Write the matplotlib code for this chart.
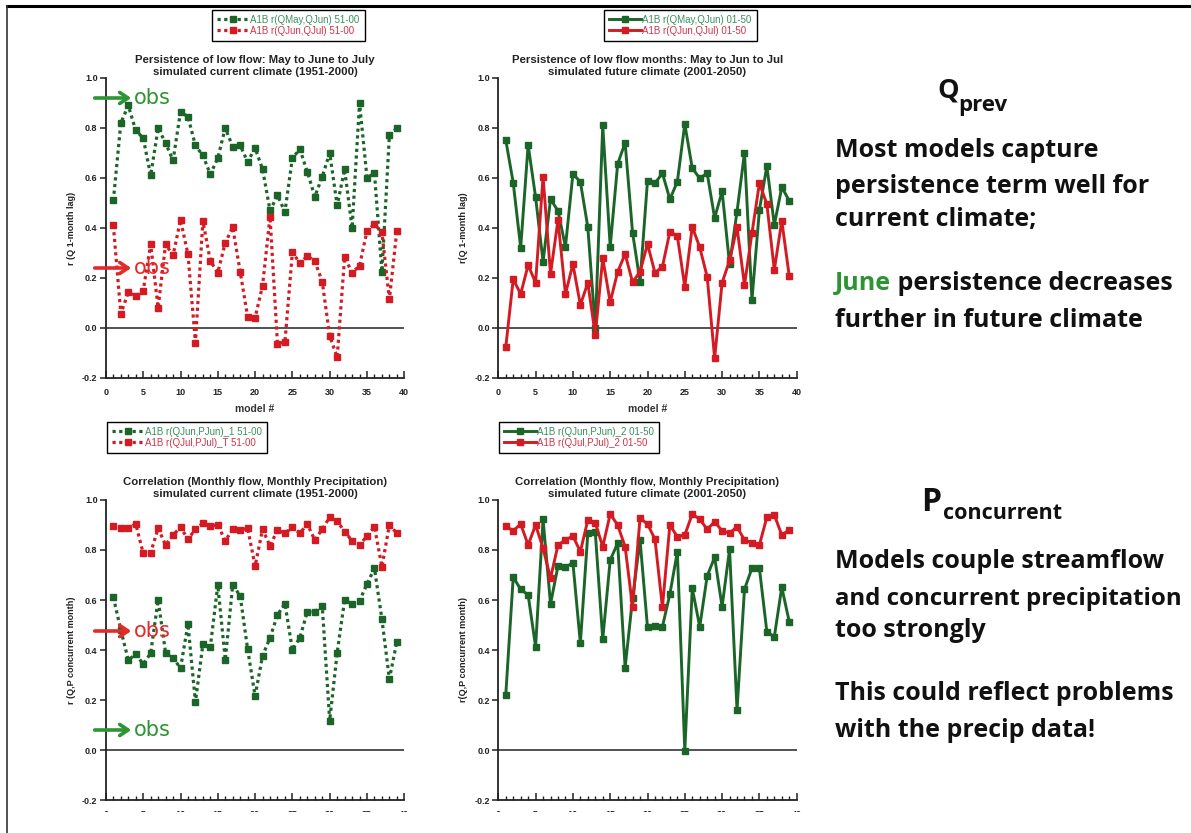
import matplotlib
matplotlib.use('Agg')
import matplotlib.pyplot as plt
from matplotlib.lines import Line2D
from matplotlib.patches import Rectangle

# ---------------- data ----------------
models = list(range(1, 40))

# top-left: persistence, current climate (1951-2000)
tl_green = [0.51, 0.82, 0.89, 0.79, 0.76, 0.61, 0.80, 0.74, 0.67, 0.865, 0.845, 0.73, 0.69,
            0.615, 0.68, 0.80, 0.725, 0.73, 0.665, 0.72, 0.635, 0.47, 0.53, 0.465, 0.68, 0.715,
            0.625, 0.525, 0.605, 0.70, 0.49, 0.635, 0.40, 0.90, 0.60, 0.62, 0.225, 0.77, 0.80]
tl_red = [0.41, 0.056, 0.143, 0.128, 0.149, 0.335, 0.081, 0.335, 0.29, 0.432, 0.295, -0.059, 0.428,
          0.268, 0.221, 0.341, 0.403, 0.225, 0.045, 0.041, 0.169, 0.445, -0.064, -0.055, 0.303, 0.259,
          0.288, 0.268, 0.185, -0.032, -0.117, 0.283, 0.221, 0.249, 0.388, 0.415, 0.383, 0.115, 0.389]

# top-right: persistence, future climate (2001-2050)
tr_green = [0.752, 0.581, 0.321, 0.732, 0.523, 0.265, 0.515, 0.469, 0.325, 0.616, 0.585, 0.403, 0.0,
            0.81, 0.325, 0.656, 0.741, 0.381, 0.185, 0.589, 0.579, 0.619, 0.515, 0.585, 0.816, 0.639,
            0.599, 0.619, 0.44, 0.547, 0.255, 0.465, 0.701, 0.112, 0.472, 0.648, 0.412, 0.563, 0.509]
tr_red = [-0.077, 0.195, 0.136, 0.252, 0.181, 0.605, 0.216, 0.432, 0.136, 0.256, 0.092, 0.181, -0.028,
          0.279, 0.103, 0.225, 0.296, 0.183, 0.225, 0.336, 0.221, 0.245, 0.385, 0.368, 0.165, 0.405,
          0.323, 0.205, -0.121, 0.181, 0.27, 0.403, 0.172, 0.379, 0.579, 0.496, 0.232, 0.429, 0.208]

# bottom-left: flow/precip correlation, current climate
bl_green = [0.611, 0.48, 0.36, 0.383, 0.344, 0.387, 0.60, 0.389, 0.369, 0.327, 0.503, 0.191, 0.423,
            0.413, 0.66, 0.36, 0.66, 0.617, 0.403, 0.216, 0.377, 0.449, 0.54, 0.586, 0.40, 0.449,
            0.553, 0.553, 0.576, 0.117, 0.389, 0.60, 0.584, 0.597, 0.664, 0.727, 0.523, 0.284, 0.433]
bl_red = [0.896, 0.887, 0.887, 0.904, 0.787, 0.789, 0.887, 0.82, 0.86, 0.891, 0.843, 0.883, 0.907,
          0.896, 0.90, 0.837, 0.883, 0.88, 0.887, 0.736, 0.883, 0.816, 0.88, 0.867, 0.891, 0.867,
          0.904, 0.84, 0.883, 0.931, 0.916, 0.873, 0.837, 0.82, 0.856, 0.893, 0.733, 0.90, 0.867]

# bottom-right: flow/precip correlation, future climate
br_green = [0.22, 0.691, 0.643, 0.62, 0.413, 0.923, 0.584, 0.736, 0.731, 0.749, 0.427, 0.867, 0.871,
            0.443, 0.76, 0.827, 0.329, 0.607, 0.84, 0.491, 0.496, 0.493, 0.624, 0.793, -0.003, 0.647,
            0.493, 0.696, 0.771, 0.573, 0.803, 0.16, 0.643, 0.727, 0.727, 0.473, 0.453, 0.651, 0.513]
br_red = [0.896, 0.877, 0.904, 0.82, 0.90, 0.807, 0.687, 0.82, 0.84, 0.856, 0.793, 0.92, 0.909,
          0.813, 0.944, 0.90, 0.813, 0.571, 0.927, 0.904, 0.843, 0.571, 0.90, 0.853, 0.86, 0.944,
          0.923, 0.883, 0.913, 0.877, 0.867, 0.893, 0.84, 0.829, 0.82, 0.931, 0.94, 0.86, 0.88]

legend_tl = ["A1B r(QMay,QJun) 51-00", "A1B r(QJun,QJul) 51-00"]
legend_tr = ["A1B r(QMay,QJun) 01-50", "A1B r(QJun,QJul) 01-50"]
legend_bl = ["A1B r(QJun,PJun)_1 51-00", "A1B r(QJul,PJul)_T 51-00"]
legend_br = ["A1B r(QJun,PJun)_2 01-50", "A1B r(QJul,PJul)_2 01-50"]

title_tl = "Persistence of low flow: May to June to July\nsimulated current climate (1951-2000)"
title_tr = "Persistence of low flow months: May to Jun to Jul\nsimulated future climate (2001-2050)"
title_bl = "Correlation (Monthly flow, Monthly Precipitation)\nsimulated current climate (1951-2000)"
title_br = "Correlation (Monthly flow, Monthly Precipitation)\nsimulated future climate (2001-2050)"

# observed reference values (arrows)
obs_tl = [(0.92, 'g'), (0.24, 'r')]
obs_bl = [(0.476, 'r'), (0.08, 'g')]

# ---------------- style ----------------
W, H = 1191, 833
GREEN = '#1b6529'
RED = '#d41a22'
GREEN_TXT = '#3a8f5c'
RED_TXT = '#d2334a'
OBS_G = '#2e9434'
OBS_R = '#e42a2a'
SANS = ['Liberation Sans', 'DejaVu Sans']

fig = plt.figure(figsize=(W / 100, H / 100), dpi=100)
fig.patch.set_facecolor('white')


def fx(px):
    return px / W


def fy(py):
    return 1 - py / H


def make_ax(x0, y0, x1, y1):
    return fig.add_axes([fx(x0), fy(y1), (x1 - x0) / W, (y1 - y0) / H])


def style_ax(ax, title, ylabel, xlabel=None):
    ax.set_xlim(0, 40)
    ax.set_ylim(-0.2, 1.0)
    for s in ['top', 'right']:
        ax.spines[s].set_visible(False)
    for s in ['left', 'bottom']:
        ax.spines[s].set_linewidth(1.3)
        ax.spines[s].set_color('#222222')
    ax.set_xticks(range(0, 41, 5))
    ax.set_xticks(range(0, 41, 1), minor=True)
    ax.set_yticks([-0.2, 0.0, 0.2, 0.4, 0.6, 0.8, 1.0])
    ax.set_yticklabels(['-0.2', '0.0', '0.2', '0.4', '0.6', '0.8', '1.0'])
    ax.tick_params(axis='x', which='major', direction='in', length=5, width=1.1,
                   labelsize=6.5, pad=7, colors='#222222')
    ax.tick_params(axis='x', which='minor', direction='in', length=3, width=1.0, colors='#222222')
    ax.tick_params(axis='y', which='major', direction='out', length=4, width=1.1,
                   labelsize=6.5, pad=2, colors='#222222')
    for lab in ax.get_xticklabels() + ax.get_yticklabels():
        lab.set_fontweight('bold')
        lab.set_family(SANS)
    ax.axhline(0, color='#333333', lw=1.2, zorder=1)
    ax.set_title(title, fontsize=8.2, fontweight='bold', family=SANS, color='#222222',
                 pad=2, linespacing=1.25)
    ax.set_ylabel(ylabel, fontsize=6.5, fontweight='bold', family=SANS, color='#222222')
    ax.yaxis.set_label_coords(-0.1, 0.5)
    if xlabel:
        ax.set_xlabel(xlabel, fontsize=7.5, fontweight='bold', family=SANS, color='#333333',
                      labelpad=5)


def add_legend(ax, lines, labels, x, y):
    leg = ax.legend(lines, labels, loc='upper left', bbox_to_anchor=(fx(x), fy(y)),
                    bbox_transform=fig.transFigure, frameon=True,
                    fancybox=False, edgecolor='black', framealpha=1, handlelength=3.3,
                    handletextpad=0.15, labelspacing=0.08, borderpad=0.5, borderaxespad=0,
                    prop={'family': SANS, 'size': 7})
    leg.get_frame().set_linewidth(1.0)
    for t, c in zip(leg.get_texts(), [GREEN_TXT, RED_TXT]):
        t.set_color(c)


def add_obs(ax, yv, col):
    c = OBS_G if col == 'g' else OBS_R
    ax.annotate('', xy=(3.4, yv), xytext=(-1.5, yv),
                arrowprops=dict(arrowstyle='->,head_length=0.6,head_width=0.4',
                                lw=2.6, color=c, shrinkA=0, shrinkB=0),
                annotation_clip=False, zorder=5)
    ax.text(3.8, yv, 'obs', fontsize=15, color=c, va='center', ha='left',
            family='DejaVu Sans', zorder=5)


dotted = dict(ls=(0, (1, 1.1)), lw=2.3, marker='s', ms=4.5)
solid = dict(ls='-', lw=2.1, marker='s', ms=4.2)

# ---- top-left ----
ax1 = make_ax(105.9, 78, 404.3, 378)
l1, = ax1.plot(models, tl_green, color=GREEN, **dotted)
l2, = ax1.plot(models, tl_red, color=RED, **dotted)
style_ax(ax1, title_tl, 'r (Q 1-month lag)', 'model #')
add_legend(ax1, [l1, l2], legend_tl, 212, 10)
for yv, c in obs_tl:
    add_obs(ax1, yv, c)

# ---- top-right ----
ax2 = make_ax(498.3, 78, 796.7, 378)
l1, = ax2.plot(models, tr_green, color=GREEN, **solid)
l2, = ax2.plot(models, tr_red, color=RED, **solid)
style_ax(ax2, title_tr, 'r(Q 1-month lag)', 'model #')
add_legend(ax2, [l1, l2], legend_tr, 604, 10)

# ---- bottom-left ----
ax3 = make_ax(105.9, 500, 404.3, 800)
l1, = ax3.plot(models, bl_green, color=GREEN, **dotted)
l2, = ax3.plot(models, bl_red, color=RED, **dotted)
style_ax(ax3, title_bl, 'r (Q,P concurrent month)')
add_legend(ax3, [l1, l2], legend_bl, 107, 422)
for yv, c in obs_bl:
    add_obs(ax3, yv, c)

# ---- bottom-right ----
ax4 = make_ax(498.3, 500, 796.7, 800)
l1, = ax4.plot(models, br_green, color=GREEN, **solid)
l2, = ax4.plot(models, br_red, color=RED, **solid)
style_ax(ax4, title_br, 'r(Q,P concurrent month)')
add_legend(ax4, [l1, l2], legend_br, 499, 422)

# ---------------- right-hand text ----------------
TXT = ['Open Sans', 'DejaVu Sans']
body = dict(fontsize=18, fontweight='bold', family=TXT, color='#111111', va='baseline',
            ha='left')

fig.text(fx(937), fy(98), 'Q', fontsize=19.5, fontweight='bold', family=TXT, color='#111111',
         va='baseline')
fig.text(fx(958), fy(111), 'prev', fontsize=16, fontweight='bold', family=TXT,
         color='#111111', va='baseline')
fig.text(fx(835), fy(157), 'Most models capture', **body)
fig.text(fx(835), fy(193), 'persistence term well for', **body)
fig.text(fx(835), fy(226), 'current climate;', **body)
t_june = fig.text(fx(835), fy(290), 'June', **dict(body, color='#2e9432'))
fig.text(fx(835), fy(327), 'further in future climate', **body)
fig.draw_without_rendering()
bb = t_june.get_window_extent()
fig.text(bb.x1 / fig.bbox.width, fy(290), ' persistence decreases', **body)

fig.text(fx(921), fy(511), 'P', fontsize=23, fontweight='bold', family=TXT, color='#111111',
         va='baseline')
fig.text(fx(943), fy(519), 'concurrent', fontsize=15.5, fontweight='bold', family=TXT,
         color='#111111', va='baseline')
fig.text(fx(835), fy(568), 'Models couple streamflow', **body)
fig.text(fx(835), fy(605), 'and concurrent precipitation', **dict(body, fontsize=17.3))
fig.text(fx(835), fy(637), 'too strongly', **body)
fig.text(fx(835), fy(700), 'This could reflect problems', **body)
fig.text(fx(835), fy(737), 'with the precip data!', **body)

# white strip at the bottom (slide crop) and frame lines
fig.add_artist(Rectangle((0, 0), 1, 21 / H, transform=fig.transFigure, facecolor='white',
                         edgecolor='none', zorder=20))
fig.add_artist(Line2D([fx(7), 1], [fy(6), fy(6)], color='black', lw=2.2,
                      transform=fig.transFigure, zorder=21))
fig.add_artist(Line2D([fx(7), fx(7)], [0, fy(6)], color='#333333', lw=1.2,
                      transform=fig.transFigure, zorder=21))

fig.savefig('out.png', dpi=100, facecolor='white')
